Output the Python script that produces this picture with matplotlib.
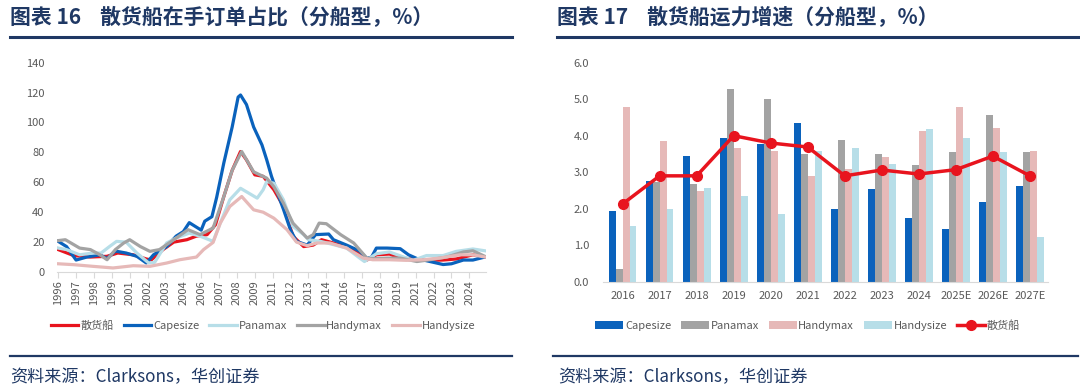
import matplotlib
matplotlib.use('Agg')
import matplotlib.pyplot as plt
from matplotlib.lines import Line2D
import numpy as np

plt.rcParams['font.family'] = ['Noto Sans CJK SC', 'DejaVu Sans']

# ---- left chart: orderbook as % of fleet, monthly index from Jan 1996 ----
tick_years = ['1996', '1997', '1998', '1999', '2001', '2002', '2003', '2004',
              '2006', '2007', '2008', '2009', '2011', '2012', '2013', '2014',
              '2016', '2017', '2018', '2019', '2021', '2022', '2023', '2024']

bulk_m = [0, 13, 27, 41, 50, 63, 74, 78, 88, 97, 108, 116, 125, 132, 139, 146, 153,
          158, 165, 172, 181, 189, 197, 206, 214, 221, 231, 242, 253, 259, 267, 278,
          287, 301, 312, 323, 334, 348, 358]
bulk_v = [15, 11, 10, 10.5, 12.7, 11.5, 8.7, 8, 15, 20, 21.6, 24, 25, 31.6, 50.5, 68, 80.6,
          75, 65, 64, 55, 44, 24, 17, 18, 21.6, 19.4, 17, 12.7, 8, 11.5, 12,
          9.3, 8.7, 7.8, 8, 8.7, 11.5, 10]

cape_m = [0, 7, 15, 24, 35, 41, 48, 57, 66, 74, 80, 91, 99, 105, 110, 116, 120, 123, 129,
          133, 139, 146, 151, 153, 158, 164, 171, 175, 179, 183, 189, 195, 200, 209, 216,
          227, 231, 242, 253, 259, 263, 267, 276, 287, 294, 301, 312, 323, 330, 340, 348, 358]
cape_v = [20.5, 17, 8, 10, 11.5, 9, 14, 12.7, 10.5, 6, 11.5, 17, 24, 27, 33, 30, 28, 34, 37,
          50, 73, 97, 117, 118.4, 112, 97, 85, 75, 64, 55, 42, 28, 20.5, 18, 25,
          25.4, 21.6, 18, 14, 9, 10, 16, 16, 15.6, 11.5, 9, 7, 5, 5.5, 8, 8, 10]

pana_m = [0, 7, 18, 29, 36, 43, 49, 57, 66, 76, 81, 91, 99, 110, 119, 130, 136, 144, 153,
          160, 167, 172, 175, 181, 189, 197, 206, 210, 220, 231, 242, 253, 257, 267, 278,
          290, 298, 309, 323, 334, 348, 358]
pana_v = [16, 15, 11.5, 12.7, 12.7, 17, 20.5, 20, 12.7, 6, 6.5, 19.4, 22.7, 26, 24, 20.5, 32.7, 48.3, 56,
          52.7, 49.4, 55, 60.5, 59.4, 48.3, 30.5, 25, 21.6, 20.5, 18.3, 16, 9.3, 7, 12.2, 13.4,
          10, 7.8, 11, 11, 13.8, 15.4, 14.2]

hmax_m = [0, 6, 18, 27, 35, 41, 48, 55, 60, 69, 77, 85, 97, 109, 119, 130, 139, 146, 154,
          164, 175, 181, 189, 197, 209, 214, 219, 225, 237, 248, 259, 264, 276, 287, 301,
          312, 326, 340, 348, 358]
hmax_v = [21, 21.6, 16, 15, 11.5, 8.2, 15, 19.4, 21.6, 17, 13.8, 15, 21.6, 28.3, 25, 29.4, 50.5, 68, 80.6,
          67, 62.8, 57, 46, 32.7, 22.7, 25, 32.7, 32.3, 25, 19.4, 9.3, 8.9, 9.3, 9.3, 7,
          8.2, 10, 13.4, 14.2, 10.5]

hsize_m = [0, 13, 29, 46, 63, 77, 91, 102, 116, 122, 130, 136, 144, 154, 164, 172, 181, 192,
           200, 209, 217, 228, 242, 256, 264, 278, 292, 306, 320, 337, 348, 358]
hsize_v = [5.5, 4.9, 3.8, 2.7, 4.2, 3.8, 6, 8.2, 10, 15, 19.8, 32.7, 43.8, 50.5, 41.6, 40, 36, 28.3,
           20, 17.6, 19.4, 19.4, 16, 9.3, 8.2, 8.2, 7.8, 8.2, 9.3, 11.5, 11.5, 10]

# ---- right chart: fleet growth by segment ----
years = ['2016', '2017', '2018', '2019', '2020', '2021', '2022', '2023', '2024',
         '2025E', '2026E', '2027E']
capesize = [1.94, 2.76, 3.44, 3.93, 3.78, 4.34, 1.98, 2.54, 1.74, 1.44, 2.19, 2.61]
panamax = [0.35, 2.73, 2.67, 5.27, 5.00, 3.50, 3.87, 3.49, 3.19, 3.55, 4.58, 3.54]
handymax = [4.79, 3.85, 2.48, 3.66, 3.58, 2.90, 3.09, 3.42, 4.12, 4.79, 4.21, 3.57]
handysize = [1.52, 1.98, 2.56, 2.36, 1.85, 3.58, 3.67, 3.22, 4.17, 3.95, 3.54, 1.22]
bulk_growth = [2.13, 2.90, 2.90, 4.00, 3.80, 3.69, 2.90, 3.06, 2.95, 3.07, 3.44, 2.90]

RED = '#E8141E'
BLUE = '#0A62BC'
LBLUE = '#B7DEE8'
GRAY = '#A3A3A3'
PINK = '#E6B9B8'
NAVY = '#1F3864'
TXT = '#595959'

fig = plt.figure(figsize=(10.8, 3.9), dpi=100)

# titles and rules
fig.text(10 / 1080, 1 - 18 / 390, '图表 16    散货船在手订单占比（分船型，%）',
         fontsize=15, fontweight='bold', color=NAVY, va='center', ha='left')
fig.text(557 / 1080, 1 - 18 / 390, '图表 17    散货船运力增速（分船型，%）',
         fontsize=15, fontweight='bold', color=NAVY, va='center', ha='left')
for x0, x1 in [(10, 512), (557, 1078)]:
    fig.add_artist(Line2D([x0 / 1080, x1 / 1080], [1 - 37 / 390] * 2, color=NAVY, lw=2.2))
for x0, x1 in [(10, 512), (553, 1078)]:
    fig.add_artist(Line2D([x0 / 1080, x1 / 1080], [1 - 355.5 / 390] * 2, color=NAVY, lw=1.6))
fig.text(10 / 1080, 1 - 377 / 390, '资料来源：Clarksons，华创证券', fontsize=12.3,
         style='italic', color=NAVY, va='center', ha='left')
fig.text(558 / 1080, 1 - 377 / 390, '资料来源：Clarksons，华创证券', fontsize=12.3,
         style='italic', color=NAVY, va='center', ha='left')

leg_kw = dict(ncol=5, frameon=False, fontsize=8, labelcolor=TXT, handlelength=2.5,
              handletextpad=0.15, columnspacing=0.9, borderaxespad=0)

# left chart
ax1 = fig.add_axes([57 / 1080, 1 - 272 / 390, 429 / 1080, 209.3 / 390])
ax1.plot(bulk_m, bulk_v, color=RED, lw=2.3, label='散货船')
ax1.plot(cape_m, cape_v, color=BLUE, lw=2.3, label='Capesize')
ax1.plot(pana_m, pana_v, color=LBLUE, lw=2.3, label='Panamax')
ax1.plot(hmax_m, hmax_v, color=GRAY, lw=2.3, label='Handymax')
ax1.plot(hsize_m, hsize_v, color=PINK, lw=2.3, label='Handysize')
ax1.set_ylim(0, 140)
ax1.set_yticks(np.arange(0, 141, 20))
ax1.set_xlim(-1, 359)
ax1.set_xticks(np.arange(len(tick_years)) * 15)
ax1.set_xticklabels(tick_years, rotation=90)
for s in ['top', 'right', 'left']:
    ax1.spines[s].set_visible(False)
ax1.spines['bottom'].set_color('#D9D9D9')
ax1.tick_params(axis='y', length=0, labelsize=8, colors=TXT, pad=9)
ax1.tick_params(axis='x', length=4, color='#D9D9D9', labelsize=8, labelcolor=TXT, pad=2)
ax1.legend(loc='center', bbox_to_anchor=(0.48, -0.255), **leg_kw)

# right chart
ax2 = fig.add_axes([603 / 1080, 1 - 281.7 / 390, 445 / 1080, 219 / 390])
x = np.arange(len(years))
w = 0.187
b1 = ax2.bar(x - 1.5 * w, capesize, w, color=BLUE, label='Capesize')
b2 = ax2.bar(x - 0.5 * w, panamax, w, color=GRAY, label='Panamax')
b3 = ax2.bar(x + 0.5 * w, handymax, w, color=PINK, label='Handymax')
b4 = ax2.bar(x + 1.5 * w, handysize, w, color=LBLUE, label='Handysize')
ln, = ax2.plot(x, bulk_growth, color=RED, lw=2.5, marker='o', ms=7, label='散货船')
ax2.set_ylim(0, 6)
ax2.set_yticks(np.arange(0, 6.1, 1.0))
ax2.set_yticklabels(['%.1f' % v for v in np.arange(0, 6.1, 1.0)])
ax2.set_xlim(-0.53, 11.49)
ax2.set_xticks(x)
ax2.set_xticklabels(years)
for s in ['top', 'right', 'left']:
    ax2.spines[s].set_visible(False)
ax2.spines['bottom'].set_color('#D9D9D9')
ax2.tick_params(axis='y', length=0, labelsize=8, colors=TXT, pad=10)
ax2.tick_params(axis='x', length=0, labelsize=8, colors=TXT, pad=7)
ax2.legend(handles=[b1, b2, b3, b4, ln], loc='center', bbox_to_anchor=(0.46, -0.2),
           **leg_kw)

fig.savefig('out.png', dpi=100)
